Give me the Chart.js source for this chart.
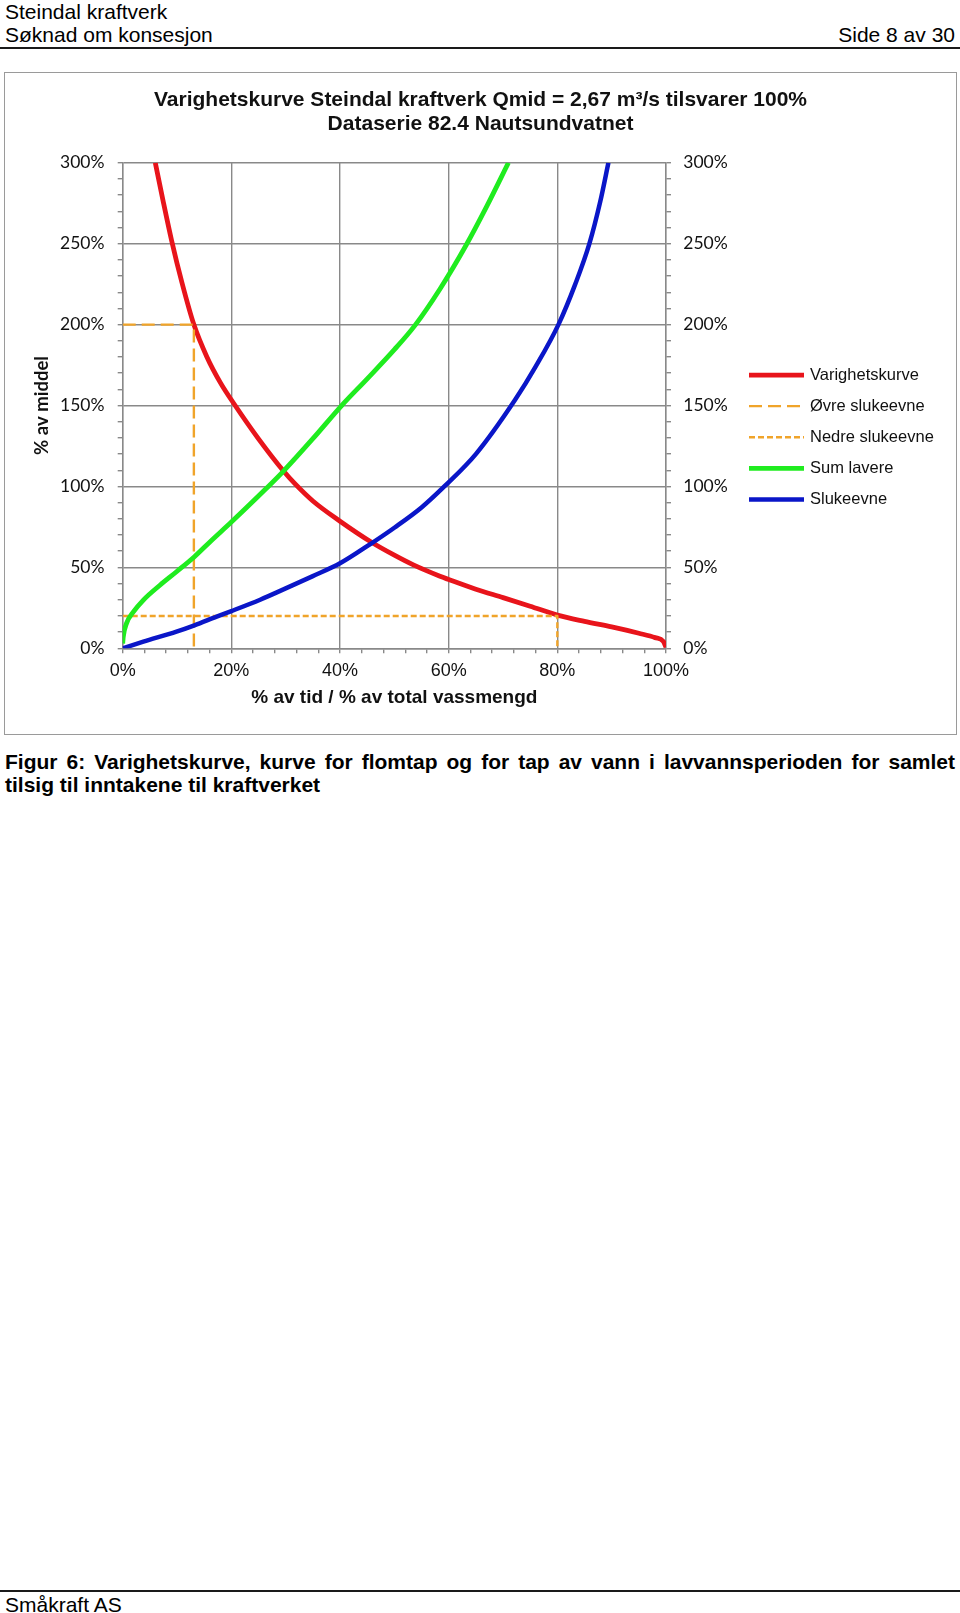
<!DOCTYPE html>
<html><head><meta charset="utf-8">
<script src="https://cdn.jsdelivr.net/npm/chart.js@4.4.1/dist/chart.umd.min.js"></script>
<style>
html,body{margin:0;padding:0;background:#fff;}
body{width:960px;height:1613px;position:relative;overflow:hidden;font-family:"Liberation Sans",Arial,sans-serif;color:#000;}
.t{position:absolute;font-size:21px;line-height:21px;white-space:nowrap;}
.rule{position:absolute;left:0;width:960px;height:2px;background:#1a1a1a;}
#box{position:absolute;left:4px;top:72px;width:953px;height:663px;box-sizing:border-box;border:1.5px solid #9a9a9a;}
#wrap{position:absolute;left:5px;top:73px;width:951px;height:661px;}
#cap{position:absolute;left:5px;top:749.5px;width:950px;font-weight:bold;font-size:21px;line-height:23.5px;text-align:justify;}
</style></head><body>
<div class="t" style="left:5px;top:1px">Steindal kraftverk</div>
<div class="t" style="left:5px;top:24.3px">Søknad om konsesjon</div>
<div class="t" style="right:5px;top:24.3px">Side 8 av 30</div>
<div class="rule" style="top:46.5px"></div>
<div id="box"></div>
<div id="wrap"><canvas id="c"></canvas></div>
<div id="cap">Figur 6: Varighetskurve, kurve for flomtap og for tap av vann i lavvannsperioden for samlet tilsig til inntakene til kraftverket</div>
<div class="rule" style="top:1590px"></div>
<div class="t" style="left:5px;top:1594.3px">Småkraft AS</div>
<script>
// ---- data (x = % av tid / % av total vassmengd, y = % av middel) ----
const varighetX = [6.0, 7.4, 9.0, 10.9, 13.1, 15.5, 18, 20.7, 25, 29.6, 31.6, 35, 40, 45.8, 50, 53.5, 58.4, 60, 65, 70, 75, 80, 85, 90, 95, 98, 99.5, 100];
const varighetY = [300, 277, 252, 226, 200, 180, 164, 150, 129.4, 109.5, 102, 91, 78.5, 65.5, 57.5, 51.5, 44.5, 42.5, 36.5, 31.3, 26, 20.5, 16.6, 13.2, 9.3, 6.6, 4.3, 0.6];
const ovreX = [0, 13.1, 13.1];
const ovreY = [200, 200, 0];
const nedreX = [0, 80, 80];
const nedreY = [20, 20, 0];
const sumLavereX = [0, 0.1, 0.7, 2, 3.8, 6.9, 9.9, 13.2, 16.1, 20, 26.5, 29.6, 35, 40.3, 45, 50, 53.8, 58.4, 63.2, 67, 71];
const sumLavereY = [3, 7, 15.4, 22.6, 29.8, 39.1, 47.3, 56.6, 65.9, 78, 99, 109.5, 129.5, 150, 166.5, 184.5, 199.5, 222, 249, 273, 300];
const slukeevneX = [0, 3.8, 9.9, 13.2, 17.3, 20, 25.3, 30, 35, 40, 45.8, 50, 55, 59.2, 65, 72.2, 76, 80.2, 83.3, 85.9, 87.9, 89.4];
const slukeevneY = [0, 4.1, 10.3, 14.2, 19.6, 23, 30, 37, 44.6, 52.5, 64.9, 74.5, 87, 100, 120, 153.4, 174, 200, 225, 250, 276, 300];
const seriesNames = ['Varighetskurve', 'Øvre slukeevne', 'Nedre slukeevne', 'Sum lavere', 'Slukeevne'];
const xTickLabels = ['0%', '20%', '40%', '60%', '80%', '100%'];
const yTickLabels = ['0%', '50%', '100%', '150%', '200%', '250%', '300%'];
const titleLines = ['Varighetskurve Steindal kraftverk Qmid = 2,67 m³/s tilsvarer 100%', 'Dataserie 82.4 Nautsundvatnet'];
const xTitle = '% av tid / % av total vassmengd';
const yTitle = '% av middel';

// ---- styles ----
const RED = '#e8141b', ORANGE = '#f0a42a', GREEN = '#1fec1f', BLUE = '#0a16c8', GRID = '#898989', TXT = '#111';
const toPts = (xs, ys) => xs.map((x, i) => ({x: x, y: ys[i]}));
const xLab = v => { const i = xTickLabels.indexOf(v + '%'); return (v % 20 === 0 && i >= 0) ? xTickLabels[i] : ''; };
const yLab = v => { const i = yTickLabels.indexOf(v + '%'); return (v % 50 === 0 && i >= 0) ? yTickLabels[i] : ''; };
const gridCol = step => c => (c.tick && Math.abs(c.tick.value % step) < 1e-6) ? GRID : 'rgba(0,0,0,0)';

Chart.defaults.font.family = '"Liberation Sans", Arial, sans-serif';

const sideLegend = {
  id: 'sideLegend',
  afterDraw(chart) {
    const {ctx, chartArea} = chart;
    const x0 = chartArea.right + 83;
    chart.data.datasets.forEach((ds, i) => {
      const y = chartArea.top + 212.3 + i * 31.1;
      ctx.save();
      ctx.strokeStyle = ds.borderColor;
      ctx.lineWidth = ds.borderWidth;
      ctx.setLineDash(ds.legendDash || []);
      ctx.beginPath(); ctx.moveTo(x0, y); ctx.lineTo(x0 + 55, y); ctx.stroke();
      ctx.setLineDash([]);
      ctx.fillStyle = TXT;
      ctx.font = '16.5px "Liberation Sans", Arial, sans-serif';
      ctx.textBaseline = 'middle'; ctx.textAlign = 'left';
      ctx.fillText(ds.label, x0 + 61, y);
      ctx.restore();
    });
  }
};

const lineDs = (label, pts, color, width, dash, order, smooth) => ({
  label: label, data: pts, borderColor: color, backgroundColor: color, borderWidth: width,
  borderDash: dash, legendDash: dash, showLine: true, pointRadius: 0, pointHoverRadius: 0,
  fill: false, order: order, cubicInterpolationMode: smooth ? 'monotone' : 'default', tension: 0,
  borderJoinStyle: 'round', borderCapStyle: 'butt'
});

new Chart(document.getElementById('c'), {
  type: 'scatter',
  data: {
    datasets: [
      lineDs(seriesNames[0], toPts(varighetX, varighetY), RED, 4.8, [], 5, true),
      lineDs(seriesNames[1], toPts(ovreX, ovreY), ORANGE, 2.4, [13, 6], 4, false),
      lineDs(seriesNames[2], toPts(nedreX, nedreY), ORANGE, 2.4, [6, 3], 3, false),
      lineDs(seriesNames[3], toPts(sumLavereX, sumLavereY), GREEN, 4.8, [], 2, true),
      lineDs(seriesNames[4], toPts(slukeevneX, slukeevneY), BLUE, 4.5, [], 1, true)
    ]
  },
  options: {
    responsive: true, maintainAspectRatio: false, animation: false, events: [],
    layout: {padding: 0},
    plugins: {
      legend: {display: false},
      tooltip: {enabled: false},
      title: {
        display: true, text: titleLines, color: TXT,
        font: {size: 21, weight: 'bold', lineHeight: 1.12},
        padding: {top: 15.75, bottom: 26.95}
      }
    },
    scales: {
      x: {
        type: 'linear', position: 'bottom', min: 0, max: 100,
        afterFit: s => { s.height = 85.7; },
        ticks: {stepSize: 4, autoSkip: false, maxRotation: 0, callback: xLab, color: TXT, font: {size: 18}, padding: 7},
        grid: {color: gridCol(20), tickColor: GRID, tickLength: 5, lineWidth: 1.4},
        border: {color: GRID, width: 1.4},
        title: {display: true, text: xTitle, color: TXT, font: {size: 19, weight: 'bold', lineHeight: 1.2}, padding: {top: 0, bottom: 24.6}}
      },
      y: {
        type: 'linear', position: 'left', min: 0, max: 300,
        afterFit: s => { s.width = 117.7; },
        ticks: {stepSize: 10, autoSkip: false, callback: yLab, color: TXT, font: {family: 'Lato', size: 17.5}, padding: 13.2},
        grid: {color: gridCol(50), tickColor: GRID, tickLength: 5, lineWidth: 1.4},
        border: {color: GRID, width: 1.4},
        title: {display: true, text: yTitle, color: TXT, font: {family: 'Lato', size: 18.5, weight: 'bold', lineHeight: 1.2}, padding: {top: 25.9, bottom: 0}}
      },
      y2: {
        type: 'linear', position: 'right', min: 0, max: 300,
        afterFit: s => { s.width = 290; },
        ticks: {stepSize: 10, autoSkip: false, callback: yLab, color: TXT, font: {family: 'Lato', size: 17.5}, padding: 12.3},
        grid: {drawOnChartArea: false, color: GRID, tickColor: GRID, tickLength: 5, lineWidth: 1.4},
        border: {color: GRID, width: 1.4}
      }
    }
  },
  plugins: [sideLegend]
});
</script>
</body></html>
